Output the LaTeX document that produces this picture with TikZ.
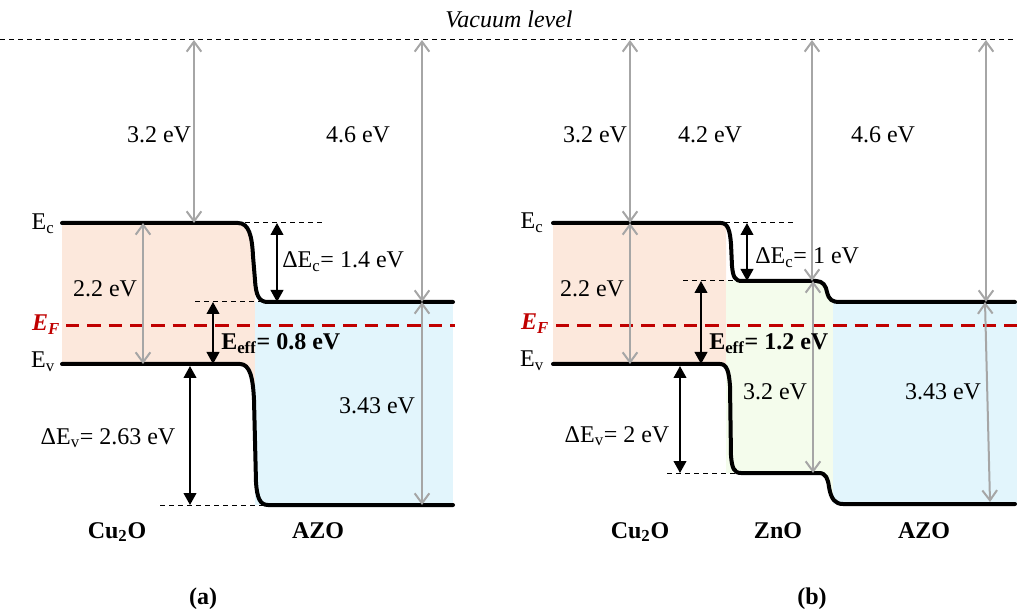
\documentclass[tikz,border=0pt]{standalone}
\usepackage{fontspec}
\setmainfont{Liberation Serif}
\usetikzlibrary{arrows.meta}
\definecolor{peach}{HTML}{FCE8DC}
\definecolor{azo}{HTML}{E2F5FC}
\definecolor{zno}{HTML}{F4FCEC}
\definecolor{efred}{HTML}{C00000}
\definecolor{grayarr}{HTML}{A6A6A6}
\begin{document}
\begin{tikzpicture}[x=0.75pt,y=-0.75pt,
  font=\fontsize{18}{21}\selectfont,
  band/.style={line width=3pt, line join=round, line cap=round},
  guide/.style={line width=0.75pt, dash pattern=on 3.75pt off 3pt},
  fermi/.style={line width=2.25pt, efred, dash pattern=on 10pt off 6pt},
  grayarrow/.style={line width=1.5pt, grayarr, {Straight Barb[length=7.5pt,width=11pt]}-{Straight Barb[length=7.5pt,width=11pt]}},
  blackarrow/.style={line width=1.5pt, black, {Triangle[length=9pt,width=9.5pt]}-{Triangle[length=9pt,width=9.5pt]}},
  lbl/.style={anchor=base, inner sep=0pt},
  lblw/.style={anchor=base west, inner sep=0pt},
  boldlbl/.style={anchor=base, inner sep=0pt, font=\fontsize{18}{21}\selectfont\bfseries}]
\useasboundingbox (0,0) rectangle (1017,609);

% ---------- fills, panel (a)
\begin{scope}
  \clip (0,200) rectangle (255,520);
  \fill[peach] (62,223) -- (238,223) .. controls (249,223) and (252,236) .. (253,256) -- (255,280) .. controls (256,296) and (259,302) .. (268,302) -- (453,302) -- (453,505) -- (268,505) .. controls (260,505) and (257,498) .. (256,482) -- (254,400) .. controls (253,378) and (250,364) .. (240,364) -- (62,364) -- cycle;
\end{scope}
\fill[azo] (255,302) rectangle (453,505);

% ---------- fills, panel (b)
\begin{scope}
  \clip (540,200) rectangle (726,520);
  \fill[peach] (553,223) rectangle (740,364);
\end{scope}
\begin{scope}
  \clip (726,200) rectangle (833,520);
  \fill[zno] (723,281) -- (817,281) .. controls (824,281) and (826,286) .. (827,292) .. controls (829,300) and (832,302) .. (840,302) -- (840,505) -- (843,504) .. controls (835,504) and (831,499) .. (829,486) .. controls (828,478) and (826,473) .. (820,473) -- (723,473) -- cycle;
\end{scope}
\fill[azo] (833,302) rectangle (1017,504);

% ---------- vacuum level
\coordinate (vacL) at (0,40);
\coordinate (vacR) at (1017,40);
\draw[guide] (vacL) -- (vacR);
\node[lbl, font=\fontsize{18}{21}\selectfont\itshape] (vac) at (509,28) {Vacuum level};

% ---------- bands, panel (a)
\draw[band] (62,223) -- (238,223) .. controls (249,223) and (252,236) .. (253,256) -- (255,280) .. controls (256,296) and (259,302) .. (268,302) -- (453,302);
\draw[band] (62,364) -- (240,364) .. controls (250,364) and (253,378) .. (254,400) -- (256,482) .. controls (257,498) and (260,505) .. (268,505) -- (453,505);
\coordinate (efaL) at (66,326);
\coordinate (efaR) at (455,326);
\draw[fermi] (efaL) -- (efaR);

% ---------- bands, panel (b)
\draw[band] (553,223) -- (721,223) .. controls (728,223) and (730,231) .. (731,244) -- (732,266) .. controls (733,277) and (735,281) .. (742,281) -- (816,281) .. controls (823,281) and (826,286) .. (827,292) .. controls (829,300) and (832,302) .. (840,302) -- (1015,302);
\draw[band] (553,364) -- (720,364) .. controls (727,364) and (729,372) .. (730,386) -- (731,456) .. controls (732,468) and (734,473) .. (741,473) -- (819,473) .. controls (826,473) and (828,479) .. (829,487) .. controls (831,499) and (835,504) .. (843,504) -- (1015,504);
\coordinate (efbL) at (556,326);
\coordinate (efbR) at (1017,326);
\draw[fermi] (efbL) -- (efbR);

% ---------- dashed guides, panel (a)
\coordinate (ga1) at (245,223); \coordinate (ga2) at (322,223);
\coordinate (ga3) at (195,302); \coordinate (ga4) at (262,302);
\coordinate (ga5) at (160,505); \coordinate (ga6) at (265,505);
\draw[guide] (ga1) -- (ga2);
\draw[guide] (ga3) -- (ga4);
\draw[guide] (ga5) -- (ga6);

% ---------- dashed guides, panel (b)
\coordinate (gb1) at (725,223); \coordinate (gb2) at (797,223);
\coordinate (gb3) at (683,281); \coordinate (gb4) at (737,281);
\coordinate (gb5) at (667,473); \coordinate (gb6) at (735,473);
\draw[guide] (gb1) -- (gb2);
\draw[guide] (gb3) -- (gb4);
\draw[guide] (gb5) -- (gb6);

% ---------- gray arrows, panel (a)
\coordinate (a1t) at (194,40);  \coordinate (a1b) at (194,223);
\coordinate (a2t) at (422,40);  \coordinate (a2b) at (422,302);
\coordinate (a3t) at (143,223); \coordinate (a3b) at (143,364);
\coordinate (a4t) at (422,302); \coordinate (a4b) at (422,505);
\draw[grayarrow] (a1t) -- (a1b);
\draw[grayarrow] (a2t) -- (a2b);
\draw[grayarrow] (a3t) -- (a3b);
\draw[grayarrow] (a4t) -- (a4b);
\node[lbl] (la1) at (159,143) {3.2 eV};
\node[lbl] (la2) at (358,143) {4.6 eV};
\node[lbl] (la3) at (105,297) {2.2 eV};
\node[lbl] (la4) at (377,413) {3.43 eV};

% ---------- gray arrows, panel (b)
\coordinate (b1t) at (630,40);  \coordinate (b1b) at (630,223);
\coordinate (b2t) at (812,40);  \coordinate (b2b) at (812,281);
\coordinate (b3t) at (986,40);  \coordinate (b3b) at (986,302);
\coordinate (b4t) at (630,223); \coordinate (b4b) at (630,364);
\coordinate (b5t) at (813,281); \coordinate (b5b) at (813,473);
\coordinate (b6t) at (985,302); \coordinate (b6b) at (990,502);
\draw[grayarrow] (b1t) -- (b1b);
\draw[grayarrow] (b2t) -- (b2b);
\draw[grayarrow] (b3t) -- (b3b);
\draw[grayarrow] (b4t) -- (b4b);
\draw[grayarrow] (b5t) -- (b5b);
\draw[grayarrow] (b6t) -- (b6b);
\node[lbl] (lb1) at (595,143) {3.2 eV};
\node[lbl] (lb2) at (710,143) {4.2 eV};
\node[lbl] (lb3) at (883,143) {4.6 eV};
\node[lbl] (lb4) at (592,297) {2.2 eV};
\node[lbl] (lb5) at (775,399) {3.2 eV};
\node[lbl] (lb6) at (943,399) {3.43 eV};

% ---------- black arrows, panel (a)
\coordinate (c1t) at (277,223); \coordinate (c1b) at (277,302);
\coordinate (c2t) at (213,302); \coordinate (c2b) at (213,364);
\coordinate (c3t) at (190,366); \coordinate (c3b) at (190,505);
\draw[blackarrow] (c1t) -- (c1b);
\draw[blackarrow] (c2t) -- (c2b);
\draw[blackarrow] (c3t) -- (c3b);
\node[lblw] (lc1) at (282,268) {ΔE\textsubscript{c}= 1.4 eV};
\node[lblw, font=\fontsize{18}{21}\selectfont\bfseries] (lc2) at (221,350) {E\textsubscript{eff}= 0.8 eV};
\node[lbl] (lc3) at (108,444) {ΔE\textsubscript{v}= 2.63 eV};

% ---------- black arrows, panel (b)
\coordinate (d1t) at (747,223); \coordinate (d1b) at (747,281);
\coordinate (d2t) at (701,281); \coordinate (d2b) at (701,364);
\coordinate (d3t) at (680,366); \coordinate (d3b) at (680,473);
\draw[blackarrow] (d1t) -- (d1b);
\draw[blackarrow] (d2t) -- (d2b);
\draw[blackarrow] (d3t) -- (d3b);
\node[lblw] (ld1) at (755,264) {ΔE\textsubscript{c}= 1 eV};
\node[lblw, font=\fontsize{18}{21}\selectfont\bfseries] (ld2) at (709,350) {E\textsubscript{eff}= 1.2 eV};
\node[lbl] (ld3) at (617,442) {ΔE\textsubscript{v}= 2 eV};

% ---------- band labels
\node[lbl] (eca) at (43,230) {E\textsubscript{c}};
\node[lbl] (eva) at (43,368) {E\textsubscript{v}};
\node[lbl, text=efred, font=\fontsize{18}{21}\selectfont\bfseries\itshape] (efa) at (46,331) {E\textsubscript{F}};
\node[lbl] (ecb) at (532,229) {E\textsubscript{c}};
\node[lbl] (evb) at (532,367) {E\textsubscript{v}};
\node[lbl, text=efred, font=\fontsize{18}{21}\selectfont\bfseries\itshape] (efb) at (535,330) {E\textsubscript{F}};

% ---------- material and panel labels
\node[boldlbl] (cua) at (117,538) {Cu\textsubscript{2}O};
\node[boldlbl] (azoa) at (318,538) {AZO};
\node[boldlbl] (pa) at (203,604) {(a)};
\node[boldlbl] (cub) at (640,538) {Cu\textsubscript{2}O};
\node[boldlbl] (znob) at (778,538) {ZnO};
\node[boldlbl] (azob) at (924,538) {AZO};
\node[boldlbl] (pb) at (812,604) {(b)};
\end{tikzpicture}
\end{document}
